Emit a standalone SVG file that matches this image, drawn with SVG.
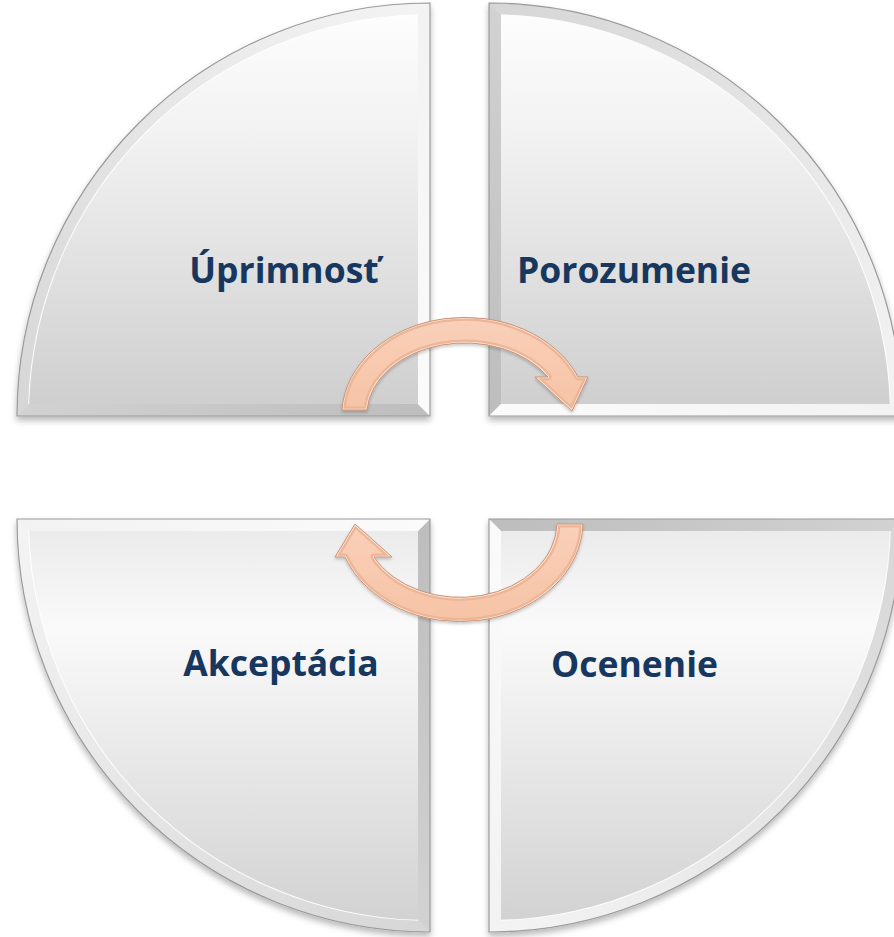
<svg xmlns="http://www.w3.org/2000/svg" xmlns:xlink="http://www.w3.org/1999/xlink" width="894" height="937" viewBox="0 0 894 937">
  <style>
    .lbl { font-family: "Open Sans", "Liberation Sans", sans-serif; font-weight: 700; font-size: 35.5px; fill: #17375E; text-anchor: middle; }
    .edge { fill: none; stroke: #9a9a9a; stroke-width: 1.2; }
    .arrow { fill: url(#peach); }
    .abevel { fill: none; stroke: #ecb597; stroke-width: 7; stroke-linejoin: round; }
    .ahl { fill: none; stroke: #fde3d3; stroke-width: 2.5; stroke-linejoin: round; }
    .aedge { fill: none; stroke: #c99478; stroke-width: 1; stroke-linejoin: round; }
  </style>
  <defs>
    <filter id="sh" x="-5%" y="-5%" width="110%" height="112%">
      <feDropShadow dx="0" dy="4" stdDeviation="3" flood-color="#000" flood-opacity="0.28"/>
    </filter>
    <filter id="ash" x="-10%" y="-10%" width="120%" height="130%">
      <feDropShadow dx="0" dy="2" stdDeviation="1.5" flood-color="#000" flood-opacity="0.2"/>
    </filter>
    <linearGradient id="arcBand" gradientUnits="userSpaceOnUse" x1="0" y1="-413" x2="-413" y2="0">
      <stop offset="0" stop-color="#f4f4f4"/>
      <stop offset="1" stop-color="#d6d6d6"/>
    </linearGradient>
    <linearGradient id="botBand" gradientUnits="userSpaceOnUse" x1="-413" y1="0" x2="0" y2="0">
      <stop offset="0" stop-color="#d2d2d2"/>
      <stop offset="1" stop-color="#bdbdbd"/>
    </linearGradient>
    <linearGradient id="rightBand" gradientUnits="userSpaceOnUse" x1="0" y1="-413" x2="0" y2="0">
      <stop offset="0" stop-color="#f2f2f2"/>
      <stop offset="1" stop-color="#fbfbfb"/>
    </linearGradient>
    <linearGradient id="faceTop" x1="0" y1="0" x2="0" y2="1">
      <stop offset="0" stop-color="#fdfdfd"/>
      <stop offset="0.3" stop-color="#f2f2f2"/>
      <stop offset="1" stop-color="#cfcfcf"/>
    </linearGradient>
    <linearGradient id="faceBot" x1="0" y1="0" x2="0" y2="1">
      <stop offset="0" stop-color="#ebebeb"/>
      <stop offset="0.25" stop-color="#fafafa"/>
      <stop offset="1" stop-color="#d2d2d2"/>
    </linearGradient>
    <linearGradient id="peach" x1="0" y1="0" x2="0" y2="1">
      <stop offset="0" stop-color="#fad0b9"/>
      <stop offset="1" stop-color="#f6c3a5"/>
    </linearGradient>
    <g id="band">
      <path d="M0 0 L-413 0 A413 413 0 0 1 0 -413 Z" fill="url(#arcBand)"/>
      <path d="M-413 0 L0 0 L-12 -12 L-400.8 -12 Z" fill="url(#botBand)"/>
      <path d="M0 0 L0 -413 L-12 -400.8 L-12 -12 Z" fill="url(#rightBand)"/>
      <path d="M-400.8 -12 A401 401 0 0 1 -12 -400.8" fill="none" stroke="#ffffff" stroke-width="2" opacity="0.9"/>
      <path d="M0 0 L-413 0 A413 413 0 0 1 0 -413 Z" class="edge"/>
    </g>
    <path id="arrTop" d="M342 410 A123 98 0 0 1 578 377 L588 377 L572 411 L535 377 L548 377 A98 72 0 0 0 367 410 Z"/>
    <path id="arrBot" d="M583 524 A123 100 0 0 1 345 557 L335 557 L355 524 L392 557 L374 557 A97 75 0 0 0 557 524 Z"/>
    <clipPath id="cTop"><use xlink:href="#arrTop" href="#arrTop"/></clipPath>
    <clipPath id="cBot"><use xlink:href="#arrBot" href="#arrBot"/></clipPath>
  </defs>

  <g id="q-tl">
    <g filter="url(#sh)">
      <use xlink:href="#band" href="#band" transform="translate(430,416)"/>
      <path d="M418 404 L29.2 404 A401 401 0 0 1 418 15.2 Z" fill="url(#faceTop)"/>
    </g>
    <text class="lbl" x="284" y="283">Úprimnosť</text>
  </g>

  <g id="q-tr">
    <g filter="url(#sh)">
      <use xlink:href="#band" href="#band" transform="translate(489,416) rotate(90)"/>
      <path d="M501 404 L501 15.2 A401 401 0 0 1 889.8 404 Z" fill="url(#faceTop)"/>
    </g>
    <text class="lbl" x="634" y="283">Porozumenie</text>
  </g>

  <g id="q-bl">
    <g filter="url(#sh)">
      <use xlink:href="#band" href="#band" transform="translate(430,519) rotate(270)"/>
      <path d="M418 531 L418 919.8 A401 401 0 0 1 29.2 531 Z" fill="url(#faceBot)"/>
    </g>
    <text class="lbl" x="281" y="676">Akceptácia</text>
  </g>

  <g id="q-br">
    <g filter="url(#sh)">
      <use xlink:href="#band" href="#band" transform="translate(489,519) rotate(180)"/>
      <path d="M501 531 L889.8 531 A401 401 0 0 1 501 919.8 Z" fill="url(#faceBot)"/>
    </g>
    <text class="lbl" x="634.5" y="677">Ocenenie</text>
  </g>

  <g id="connectors">
    <g id="arrow-top" filter="url(#ash)">
      <use xlink:href="#arrTop" href="#arrTop" class="arrow"/>
      <g clip-path="url(#cTop)">
        <use xlink:href="#arrTop" href="#arrTop" class="abevel"/>
        <use xlink:href="#arrTop" href="#arrTop" class="ahl"/>
      </g>
      <use xlink:href="#arrTop" href="#arrTop" class="aedge"/>
    </g>
    <g id="arrow-bottom" filter="url(#ash)">
      <use xlink:href="#arrBot" href="#arrBot" class="arrow"/>
      <g clip-path="url(#cBot)">
        <use xlink:href="#arrBot" href="#arrBot" class="abevel"/>
        <use xlink:href="#arrBot" href="#arrBot" class="ahl"/>
      </g>
      <use xlink:href="#arrBot" href="#arrBot" class="aedge"/>
    </g>
  </g>
</svg>
